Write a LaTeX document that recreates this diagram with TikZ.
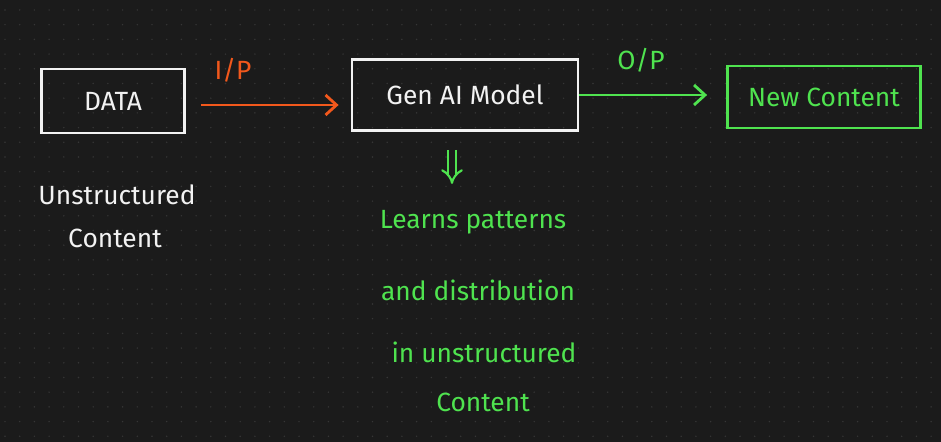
\documentclass[tikz,border=0pt]{standalone}
\usepackage{fontspec}
\setmainfont{Fira Sans}
\usepackage{xcolor}
\usepackage{tikz}
\usetikzlibrary{calc,arrows.meta,positioning}
\definecolor{boardbg}{HTML}{1B1B1B}
\definecolor{dotx}{HTML}{363636}
\definecolor{chalk}{HTML}{F2F2F2}
\definecolor{greenx}{HTML}{4FE34F}
\definecolor{orangex}{HTML}{F2581C}
\tikzset{
  hand/.style={font=\fontsize{15}{18}\selectfont},
  wbox/.style={draw=chalk,line width=1.6pt,hand,text=chalk,inner sep=0pt},
  gbox/.style={draw=greenx,line width=1.6pt,hand,text=greenx,inner sep=0pt},
  oar/.style={-{Straight Barb[length=2.2mm,width=4mm]},line width=1.6pt,orangex},
  gar/.style={-{Straight Barb[length=2.2mm,width=4mm]},line width=1.6pt,greenx}
}
\begin{document}
\begin{tikzpicture}[x=0.02cm,y=-0.02cm]
\fill[boardbg] (0,0) rectangle (941,442);
\useasboundingbox (0,0) rectangle (941,442);
% dotted board
\foreach \i in {0,...,63}{\foreach \j in {0,...,29}{\fill[dotx] ({5+14.7*\i},{10+14.7*\j}) circle (0.8);}}
\node[wbox,minimum width=2.86cm,minimum height=1.28cm] (data) at (113,101) {DATA};
\node[wbox,minimum width=4.52cm,minimum height=1.42cm] (genai) at (465,95) {Gen AI Model};
\node[gbox,minimum width=3.86cm,minimum height=1.24cm] (newc) at (824,97) {New Content};
\coordinate (ipstart) at ([xshift=0.3cm,yshift=-0.08cm]data.east);
\draw[oar] (ipstart) -- ([xshift=-0.24cm]ipstart -| genai.west);
\node[hand,text=orangex] (ip) at (233,70) {I/P};
\draw[gar] (genai.east) -- ([xshift=-0.38cm]genai.east -| newc.west);
\node[hand,text=greenx] (op) at (641,60) {O/P};
\node[hand,text=chalk] (unstr) at (117,195) {Unstructured};
\node[hand,text=chalk] (unstrc) at (115,238) {Content};
% what the model does
\node[hand,text=greenx] (learn1) at (473,222) {Learns patterns};
\node[hand,text=greenx] (learn2) at (478,290) {and distribution};
\node[hand,text=greenx] (learn3) at (484,352) {in unstructured};
\node[hand,text=greenx] (learn4) at (483,402) {Content};
\draw[greenx,line width=1.2pt,double=boardbg,double distance=3pt,-{Implies},shorten <=0.36cm,shorten >=0.4cm]
  ([xshift=-0.26cm]genai.south) -- ([xshift=-0.26cm]genai.south |- learn1.north);
\end{tikzpicture}
\end{document}
